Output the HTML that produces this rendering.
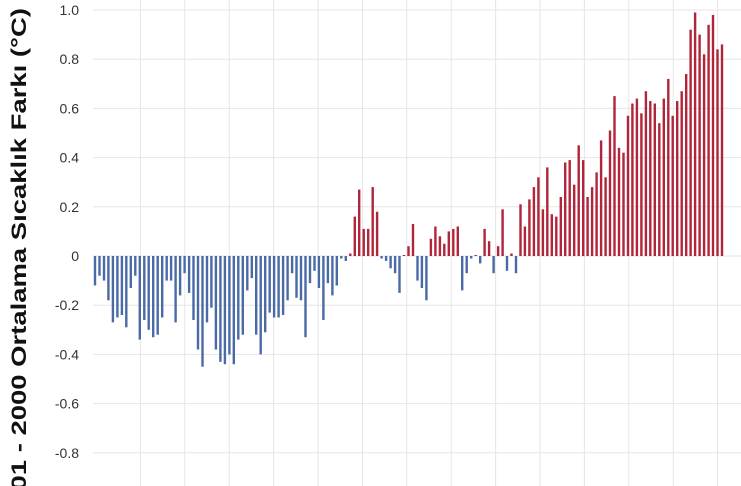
<!DOCTYPE html>
<html><head><meta charset="utf-8"><style>
body{margin:0;background:#fff;width:741px;height:486px;overflow:hidden}
svg{display:block;font-family:"Liberation Sans",sans-serif;overflow:hidden}
</style></head><body>
<svg id="c" width="741" height="486" xmlns="http://www.w3.org/2000/svg">
<text transform="translate(26,8) rotate(-90)" text-anchor="end" font-size="21" font-weight="bold" fill="#111" textLength="513" lengthAdjust="spacingAndGlyphs">1901 - 2000 Ortalama Sıcaklık Farkı (°C)</text>
</svg>
<script>
var v=[-0.12,-0.08,-0.10,-0.18,-0.27,-0.25,-0.24,-0.29,-0.13,-0.08,-0.34,-0.26,-0.30,-0.33,-0.32,-0.25,-0.10,-0.10,-0.27,-0.16,-0.07,-0.15,-0.26,-0.38,-0.45,-0.27,-0.21,-0.38,-0.43,-0.44,-0.40,-0.44,-0.34,-0.32,-0.14,-0.09,-0.32,-0.40,-0.31,-0.23,-0.25,-0.25,-0.24,-0.18,-0.07,-0.17,-0.18,-0.33,-0.11,-0.06,-0.13,-0.26,-0.11,-0.16,-0.12,
-0.01,-0.02,0.01,0.16,0.27,0.11,0.11,0.28,0.18,-0.01,-0.02,-0.05,-0.07,-0.15,0,0.04,0.13,-0.10,-0.13,-0.18,0.07,0.12,0.08,0.05,0.10,0.11,0.12,-0.14,-0.07,-0.01,0,-0.03,0.11,0.06,-0.07,0.04,0.19,-0.06,0.01,-0.07,
0.21,0.12,0.23,0.28,0.32,0.19,0.36,0.17,0.16,0.24,0.38,0.39,0.29,0.45,0.39,0.24,0.28,0.34,0.47,0.32,0.51,0.65,0.44,0.42,0.57,0.62,0.64,0.58,0.67,0.63,0.62,0.54,0.64,0.72,0.57,0.63,0.67,0.74,0.92,0.99,0.90,0.82,0.94,0.98,0.84,0.86];
var s='',z=256,k=246;
for(var i=0;i<=9;i++){var val=1-0.2*i;var y=z-val*k;
s+='<line x1="93" x2="741" y1="'+y.toFixed(1)+'" y2="'+y.toFixed(1)+'" stroke="#e6e6e6" stroke-width="1"/>';
var t=Math.abs(val)<1e-9?'0':(Math.round(val*10)/10).toFixed(1);
s+='<text x="79" y="'+(y+5).toFixed(1)+'" text-anchor="end" font-size="14" fill="#333">'+t+'</text>';}
for(var j=1;j<=14;j++){var x=96+44.4*j;s+='<line x1="'+x+'" x2="'+x+'" y1="0" y2="486" stroke="#e6e6e6" stroke-width="1"/>';}
var n=v.length,sp=(722-95)/(n-1);
for(var i=0;i<n;i++){var x=95+i*sp-1.2,h=Math.abs(v[i])*k;if(h<1)h=1;
var y=v[i]>=0?z-h:z;s+='<rect x="'+x.toFixed(1)+'" y="'+y.toFixed(1)+'" width="2.4" height="'+h.toFixed(1)+'" fill="'+(v[i]>=0?'#b0253a':'#4a6aa5')+'"/>';}
document.getElementById('c').insertAdjacentHTML('afterbegin',s);
</script>
</body></html>
